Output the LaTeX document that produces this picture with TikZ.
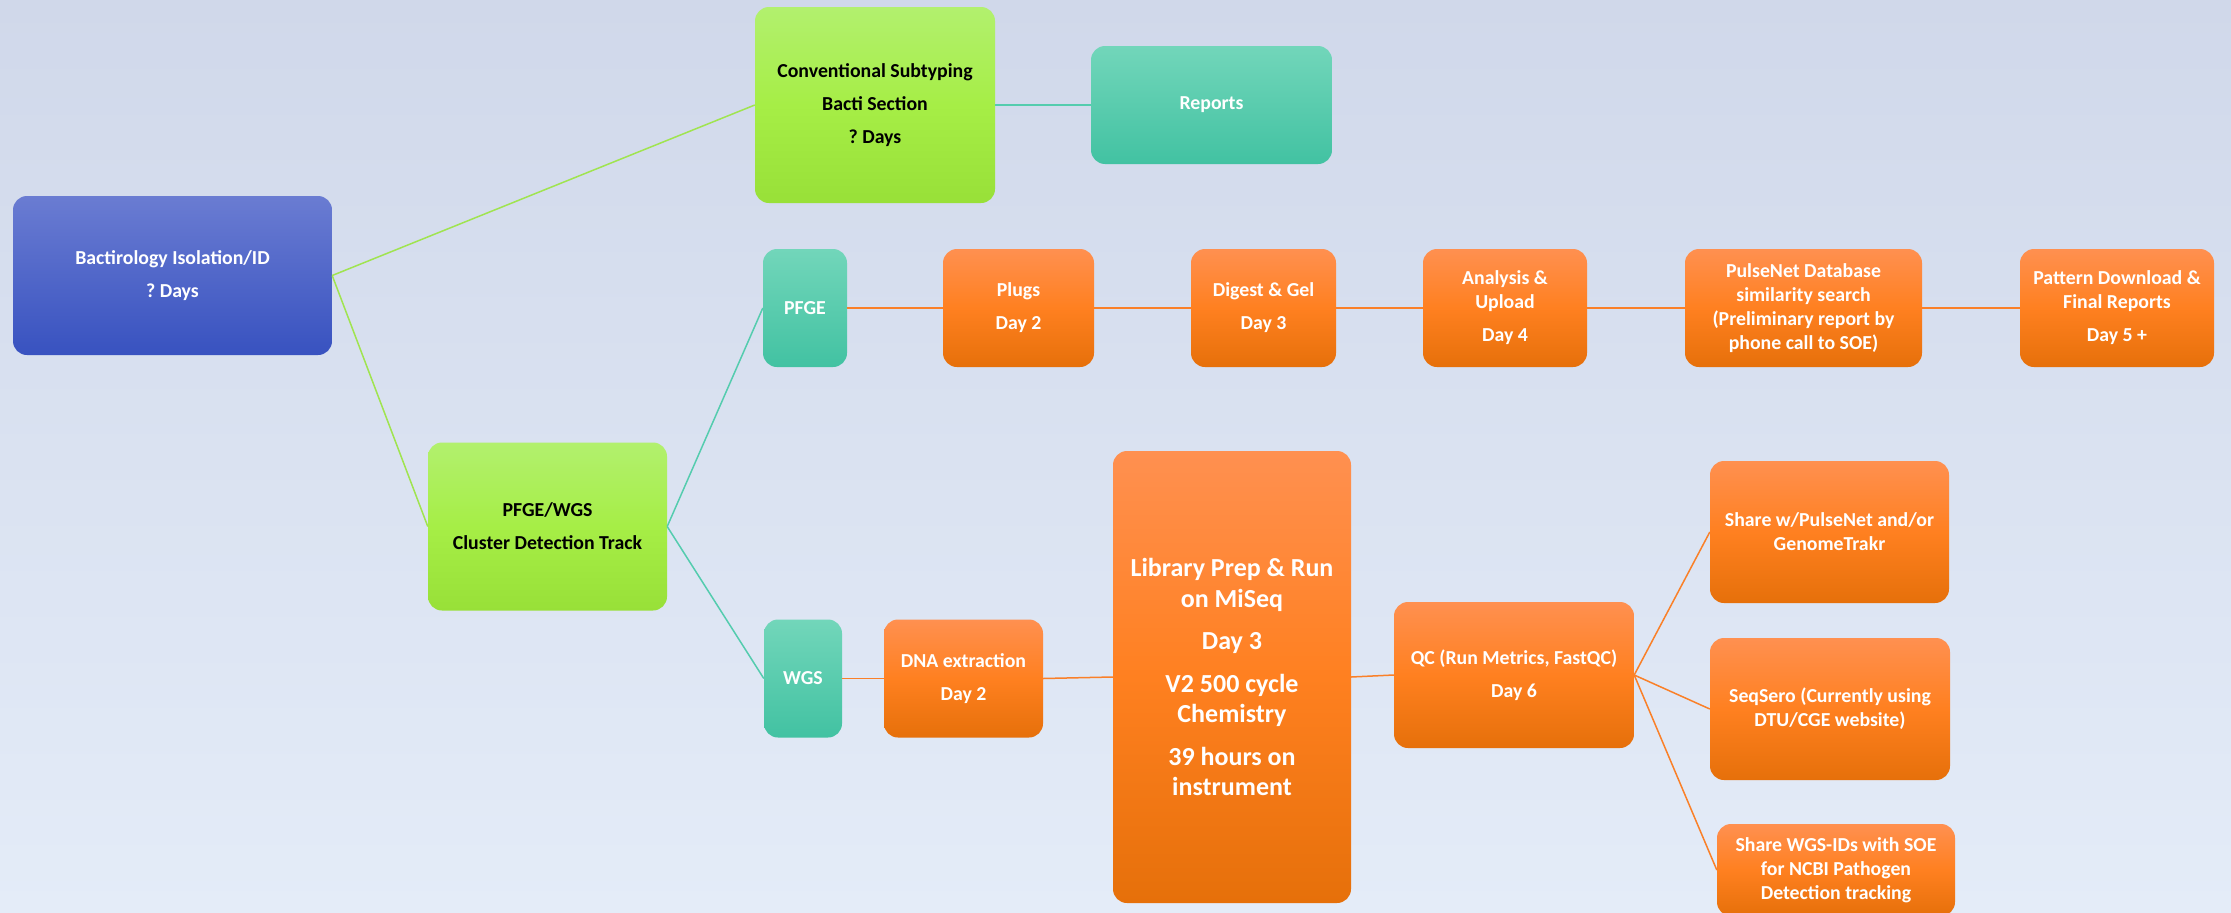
\documentclass[tikz,border=0pt]{standalone}
\usepackage{fontspec}
\setmainfont{Carlito}
\frenchspacing
\definecolor{bgT}{RGB}{208,216,234}
\definecolor{bgB}{RGB}{228,236,248}
\definecolor{orT}{RGB}{255,144,80}
\definecolor{orM}{RGB}{255,128,32}
\definecolor{orB}{RGB}{230,112,10}
\definecolor{blT}{RGB}{106,124,210}
\definecolor{blB}{RGB}{56,82,192}
\definecolor{grT}{RGB}{178,240,110}
\definecolor{grM}{RGB}{166,238,70}
\definecolor{grB}{RGB}{152,224,56}
\definecolor{tlT}{RGB}{114,214,186}
\definecolor{tlB}{RGB}{66,194,162}
\definecolor{gLine}{RGB}{160,228,80}
\definecolor{tLine}{RGB}{84,204,174}
\definecolor{oLine}{RGB}{250,128,40}
\tikzset{
  basebox/.style={rounded corners=14pt, align=center, inner sep=4pt,
    font=\bfseries\fontsize{19.8}{24}\selectfont},
  orangebox/.style={basebox, top color=orT, bottom color=orB, middle color=orM, text=white},
  bluebox/.style={basebox, top color=blT, bottom color=blB, text=white},
  greenbox/.style={basebox, top color=grT, bottom color=grB, middle color=grM, text=black},
  tealbox/.style={basebox, top color=tlT, bottom color=tlB, text=white},
  gline/.style={draw=gLine, line width=1.5pt},
  tline/.style={draw=tLine, line width=1.5pt},
  oline/.style={draw=oLine, line width=1.5pt}
}
\begin{document}
\begin{tikzpicture}[x=1pt,y=-1pt]
\shade[top color=bgT, bottom color=bgB] (0,0) rectangle (2231,913);
\useasboundingbox (0,0) rectangle (2231,913);

\node[bluebox, minimum width=319pt, minimum height=159pt] (bact) at (172.5,275.5)
  {Bactirology Isolation/ID\\[9pt]? Days};
\node[greenbox, minimum width=240pt, minimum height=196pt] (conv) at (875,105)
  {Conventional Subtyping\\[9pt]Bacti Section\\[9pt]? Days};
\node[tealbox, minimum width=241pt, minimum height=118pt] (reports) at (1211.5,105)
  {Reports};
\node[greenbox, minimum width=239pt, minimum height=168pt] (pfgewgs) at (547.5,526.5)
  {PFGE/WGS\\[9pt]Cluster Detection Track};
\node[tealbox, minimum width=84pt, minimum height=118pt] (pfge) at (805,308)
  {PFGE};
\node[tealbox, minimum width=78pt, minimum height=118pt] (wgs) at (803,678.5)
  {WGS};

\node[orangebox, minimum width=151pt, minimum height=118pt] (plugs) at (1018.5,308)
  {Plugs\\[9pt]Day 2};
\node[orangebox, minimum width=145pt, minimum height=118pt] (digest) at (1263.5,308)
  {Digest \& Gel\\[9pt]Day 3};
\node[orangebox, minimum width=164pt, minimum height=118pt] (analysis) at (1505,308)
  {Analysis \&\\Upload\\[9pt]Day 4};
\node[orangebox, minimum width=237pt, minimum height=118pt] (pulsenet) at (1803.5,308)
  {PulseNet Database\\similarity search\\(Preliminary report by\\phone call to SOE)};
\node[orangebox, minimum width=194pt, minimum height=118pt] (pattern) at (2117,308)
  {Pattern Download \&\\Final Reports\\[9pt]Day 5 +};

\node[orangebox, minimum width=159pt, minimum height=118pt] (dna) at (963.5,678.5)
  {DNA extraction\\[9pt]Day 2};
\node[orangebox, minimum width=238pt, minimum height=452pt,
      font=\bfseries\fontsize{26}{30.5}\selectfont] (lib) at (1232,677)
  {Library Prep \& Run\\on MiSeq\\[12pt]Day 3\\[12pt]V2 500 cycle\\Chemistry\\[12pt]39 hours on\\instrument};
\node[orangebox, minimum width=240pt, minimum height=146pt] (qc) at (1514,675)
  {QC (Run Metrics, FastQC)\\[9pt]Day 6};
\node[orangebox, minimum width=239pt, minimum height=142pt] (share1) at (1829.5,532)
  {Share w/PulseNet and/or\\GenomeTrakr};
\node[orangebox, minimum width=240pt, minimum height=142pt] (seqsero) at (1830,709)
  {SeqSero (Currently using\\DTU/CGE website)};
\node[orangebox, minimum width=238pt, minimum height=92pt] (share2) at (1836,870)
  {Share WGS-IDs with SOE\\for NCBI Pathogen\\Detection tracking};

\draw[gline] (bact.east) -- (conv.west);
\draw[gline] (bact.east) -- (pfgewgs.west);
\draw[tline] (conv.east) -- (reports.west);
\draw[tline] (pfgewgs.east) -- (pfge.west);
\draw[tline] (pfgewgs.east) -- (wgs.west);
\draw[oline] (pfge.east) -- (plugs.west);
\draw[oline] (plugs.east) -- (digest.west);
\draw[oline] (digest.east) -- (analysis.west);
\draw[oline] (analysis.east) -- (pulsenet.west);
\draw[oline] (pulsenet.east) -- (pattern.west);
\draw[oline] (wgs.east) -- (dna.west);
\draw[oline] (dna.east) -- (lib.west);
\draw[oline] (lib.east) -- (qc.west);
\draw[oline] (qc.east) -- (share1.west);
\draw[oline] (qc.east) -- (seqsero.west);
\draw[oline] (qc.east) -- (share2.west);
\end{tikzpicture}
\end{document}
